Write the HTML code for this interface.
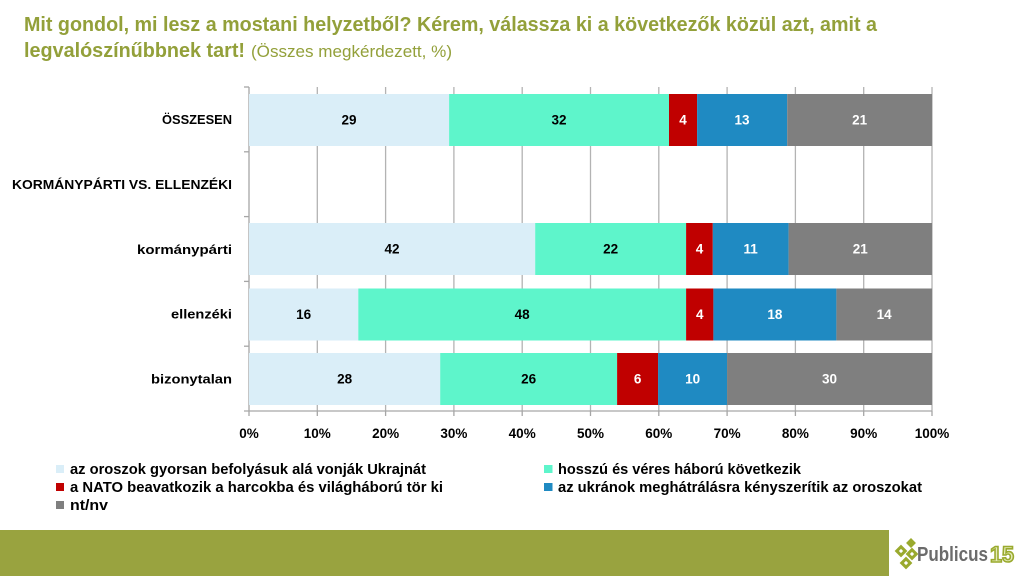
<!DOCTYPE html>
<html><head><meta charset="utf-8"><style>
html,body{margin:0;padding:0;background:#fff;}
svg{display:block;}
text{font-family:"Liberation Sans",Arial,sans-serif;}
</style></head><body>
<svg width="1024" height="576" viewBox="0 0 1024 576" xmlns="http://www.w3.org/2000/svg">
<rect width="1024" height="576" fill="#fff"/>
<!-- Title -->
<text x="24" y="31" font-size="20" font-weight="bold" fill="#93A03A" textLength="853" lengthAdjust="spacingAndGlyphs">Mit gondol, mi lesz a mostani helyzetből? Kérem, válassza ki a következők közül azt, amit a</text>
<text x="24" y="57" font-size="20" font-weight="bold" fill="#93A03A" textLength="221" lengthAdjust="spacingAndGlyphs">legvalószínűbbnek tart!</text>
<text x="251" y="57" font-size="17" fill="#93A03A" textLength="201" lengthAdjust="spacingAndGlyphs">(Összes megkérdezett, %)</text>

<!-- gridlines -->
<g stroke="#B3B3B3" stroke-width="1.3">
<line x1="317.3" y1="87" x2="317.3" y2="411"/>
<line x1="385.6" y1="87" x2="385.6" y2="411"/>
<line x1="453.9" y1="87" x2="453.9" y2="411"/>
<line x1="522.2" y1="87" x2="522.2" y2="411"/>
<line x1="590.5" y1="87" x2="590.5" y2="411"/>
<line x1="658.8" y1="87" x2="658.8" y2="411"/>
<line x1="727.1" y1="87" x2="727.1" y2="411"/>
<line x1="795.4" y1="87" x2="795.4" y2="411"/>
<line x1="863.7" y1="87" x2="863.7" y2="411"/>
<line x1="932" y1="87" x2="932" y2="411"/>
</g>
<!-- axes -->
<g stroke="#A6A6A6" stroke-width="1.3">
<line x1="249" y1="87" x2="249" y2="416"/>
<line x1="244" y1="411" x2="932" y2="411"/>
<line x1="244" y1="87" x2="249" y2="87"/>
<line x1="244" y1="151.8" x2="249" y2="151.8"/>
<line x1="244" y1="216.6" x2="249" y2="216.6"/>
<line x1="244" y1="281.4" x2="249" y2="281.4"/>
<line x1="244" y1="346.2" x2="249" y2="346.2"/>
<line x1="317.3" y1="411" x2="317.3" y2="416"/>
<line x1="385.6" y1="411" x2="385.6" y2="416"/>
<line x1="453.9" y1="411" x2="453.9" y2="416"/>
<line x1="522.2" y1="411" x2="522.2" y2="416"/>
<line x1="590.5" y1="411" x2="590.5" y2="416"/>
<line x1="658.8" y1="411" x2="658.8" y2="416"/>
<line x1="727.1" y1="411" x2="727.1" y2="416"/>
<line x1="795.4" y1="411" x2="795.4" y2="416"/>
<line x1="863.7" y1="411" x2="863.7" y2="416"/>
<line x1="932" y1="411" x2="932" y2="416"/>
</g>

<!-- Bars -->
<g>
<!-- ÖSSZESEN -->
<rect x="249" y="94" width="200.1" height="52" fill="#DAEEF8"/>
<rect x="449.1" y="94" width="219.9" height="52" fill="#5EF5CB"/>
<rect x="669" y="94" width="28.1" height="52" fill="#C00000"/>
<rect x="697.1" y="94" width="90.1" height="52" fill="#1F8AC2"/>
<rect x="787.2" y="94" width="144.8" height="52" fill="#7F7F7F"/>
<!-- kormánypárti -->
<rect x="249" y="223" width="286.2" height="52" fill="#DAEEF8"/>
<rect x="535.2" y="223" width="150.9" height="52" fill="#5EF5CB"/>
<rect x="686.1" y="223" width="26.7" height="52" fill="#C00000"/>
<rect x="712.8" y="223" width="75.8" height="52" fill="#1F8AC2"/>
<rect x="788.6" y="223" width="143.4" height="52" fill="#7F7F7F"/>
<!-- ellenzéki -->
<rect x="249" y="288.5" width="109.3" height="52" fill="#DAEEF8"/>
<rect x="358.3" y="288.5" width="327.8" height="52" fill="#5EF5CB"/>
<rect x="686.1" y="288.5" width="27.3" height="52" fill="#C00000"/>
<rect x="713.4" y="288.5" width="123" height="52" fill="#1F8AC2"/>
<rect x="836.4" y="288.5" width="95.6" height="52" fill="#7F7F7F"/>
<!-- bizonytalan -->
<rect x="249" y="353" width="191.2" height="52" fill="#DAEEF8"/>
<rect x="440.2" y="353" width="176.9" height="52" fill="#5EF5CB"/>
<rect x="617.1" y="353" width="41" height="52" fill="#C00000"/>
<rect x="658.1" y="353" width="69" height="52" fill="#1F8AC2"/>
<rect x="727.1" y="353" width="204.9" height="52" fill="#7F7F7F"/>
</g>

<!-- bar labels -->
<g font-size="13.5" font-weight="bold" text-anchor="middle">
<text x="349" y="124.5" fill="#000">29</text>
<text x="559" y="124.5" fill="#000">32</text>
<text x="683" y="124.5" fill="#fff">4</text>
<text x="742" y="124.5" fill="#fff">13</text>
<text x="859.6" y="124.5" fill="#fff">21</text>

<text x="392" y="253.5" fill="#000">42</text>
<text x="610.6" y="253.5" fill="#000">22</text>
<text x="699.5" y="253.5" fill="#fff">4</text>
<text x="750.7" y="253.5" fill="#fff">11</text>
<text x="860.3" y="253.5" fill="#fff">21</text>

<text x="303.6" y="319" fill="#000">16</text>
<text x="522.2" y="319" fill="#000">48</text>
<text x="699.7" y="319" fill="#fff">4</text>
<text x="774.9" y="319" fill="#fff">18</text>
<text x="884.2" y="319" fill="#fff">14</text>

<text x="344.6" y="383.5" fill="#000">28</text>
<text x="528.6" y="383.5" fill="#000">26</text>
<text x="637.6" y="383.5" fill="#fff">6</text>
<text x="692.6" y="383.5" fill="#fff">10</text>
<text x="829.5" y="383.5" fill="#fff">30</text>
</g>

<!-- category labels -->
<g font-size="13" font-weight="bold" fill="#000" text-anchor="end">
<text x="232" y="124" textLength="70" lengthAdjust="spacingAndGlyphs">ÖSSZESEN</text>
<text x="232" y="189" textLength="220" lengthAdjust="spacingAndGlyphs">KORMÁNYPÁRTI VS. ELLENZÉKI</text>
<text x="232" y="254" textLength="95" lengthAdjust="spacingAndGlyphs">kormánypárti</text>
<text x="232" y="318.5" textLength="61" lengthAdjust="spacingAndGlyphs">ellenzéki</text>
<text x="232" y="383.5" textLength="81" lengthAdjust="spacingAndGlyphs">bizonytalan</text>
</g>

<!-- x axis labels -->
<g font-size="13.5" font-weight="bold" fill="#000" text-anchor="middle">
<text x="249" y="438">0%</text>
<text x="317.3" y="438">10%</text>
<text x="385.6" y="438">20%</text>
<text x="453.9" y="438">30%</text>
<text x="522.2" y="438">40%</text>
<text x="590.5" y="438">50%</text>
<text x="658.8" y="438">60%</text>
<text x="727.1" y="438">70%</text>
<text x="795.4" y="438">80%</text>
<text x="863.7" y="438">90%</text>
<text x="932" y="438">100%</text>
</g>

<!-- legend -->
<rect x="56" y="465" width="8" height="8" fill="#DAEEF8"/>
<rect x="56" y="483" width="8" height="8" fill="#C00000"/>
<rect x="56" y="501" width="8" height="8" fill="#7F7F7F"/>
<rect x="544" y="465" width="8.5" height="8" fill="#5EF5CB"/>
<rect x="544" y="483" width="8.5" height="8" fill="#1F8AC2"/>
<g font-size="14.5" font-weight="bold" fill="#000">
<text x="70" y="474" textLength="356" lengthAdjust="spacingAndGlyphs">az oroszok gyorsan befolyásuk alá vonják Ukrajnát</text>
<text x="70" y="492" textLength="373" lengthAdjust="spacingAndGlyphs">a NATO beavatkozik a harcokba és világháború tör ki</text>
<text x="70" y="510" textLength="38" lengthAdjust="spacingAndGlyphs">nt/nv</text>
<text x="558" y="474" textLength="243" lengthAdjust="spacingAndGlyphs">hosszú és véres háború következik</text>
<text x="558" y="492" textLength="364" lengthAdjust="spacingAndGlyphs">az ukránok meghátrálásra kényszerítik az oroszokat</text>
</g>

<!-- footer -->
<rect x="0" y="530" width="889" height="46" fill="#99A33F"/>
<!-- logo -->
<g fill="#9AAA2E">
<rect x="-3.5" y="-3.5" width="7" height="7" transform="translate(911,543) rotate(45)"/>
<rect x="-4.5" y="-4.5" width="9" height="9" transform="translate(901,551) rotate(45)"/>
<rect x="-4.5" y="-4.5" width="9" height="9" transform="translate(912,554) rotate(45)"/>
<rect x="-4.5" y="-4.5" width="9" height="9" transform="translate(906,563) rotate(45)"/>
</g>
<g fill="#fff">
<rect x="-1.5" y="-1.5" width="3" height="3" transform="translate(901,551) rotate(45)"/>
<rect x="-1.5" y="-1.5" width="3" height="3" transform="translate(912,554) rotate(45)"/>
<rect x="-1.5" y="-1.5" width="3" height="3" transform="translate(906,563) rotate(45)"/>
</g>
<text x="917" y="561" font-size="20" font-weight="bold" fill="#6B6B6B" textLength="71" lengthAdjust="spacingAndGlyphs">Publicus</text>
<text x="990" y="562" font-size="22" font-weight="bold" fill="#E4EBB8" stroke="#9AAA2E" stroke-width="1.6" textLength="24" lengthAdjust="spacingAndGlyphs">15</text>
</svg>
</body></html>
